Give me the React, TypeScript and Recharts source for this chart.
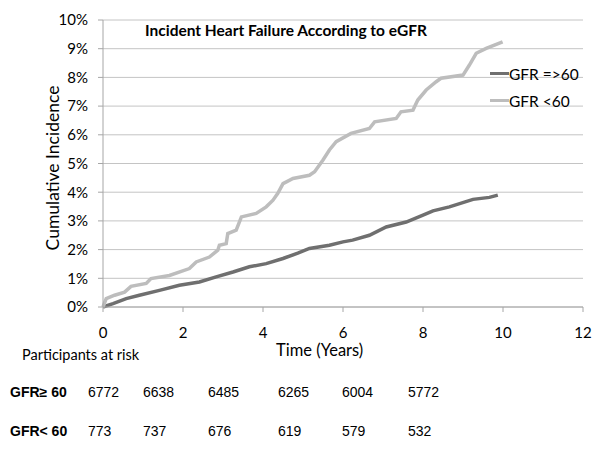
import { LineChart, Line, XAxis, YAxis, CartesianGrid } from 'recharts'

// GFR >= 60 (dark curve)
const highTimes = [0, 0.25, 0.58, 0.91, 1.41, 1.91, 2.41, 2.83, 3.25, 3.66, 4.08, 4.5, 4.87, 5.16, 5.66, 6.0, 6.24, 6.66, 7.08, 7.58, 8.0, 8.25, 8.66, 9.25, 9.66, 9.87]
const highValues = [0, 0.12, 0.29, 0.41, 0.58, 0.76, 0.87, 1.05, 1.22, 1.4, 1.51, 1.69, 1.88, 2.04, 2.15, 2.27, 2.33, 2.5, 2.79, 2.96, 3.2, 3.35, 3.49, 3.75, 3.82, 3.9]

// GFR < 60 (light curve)
const lowTimes = [0, 0.08, 0.29, 0.54, 0.7, 1.08, 1.2, 1.66, 2.16, 2.33, 2.66, 2.87, 2.91, 3.08, 3.12, 3.33, 3.46, 3.83, 4.08, 4.25, 4.37, 4.5, 4.75, 5.16, 5.29, 5.5, 5.66, 5.83, 6.2, 6.66, 6.79, 7.33, 7.45, 7.75, 7.87, 8.08, 8.33, 8.45, 9.0, 9.16, 9.33, 9.58, 9.99]
const lowValues = [0, 0.29, 0.41, 0.52, 0.72, 0.82, 0.99, 1.1, 1.34, 1.57, 1.74, 1.98, 2.15, 2.21, 2.56, 2.68, 3.14, 3.26, 3.49, 3.72, 3.96, 4.3, 4.48, 4.59, 4.71, 5.12, 5.47, 5.76, 6.05, 6.22, 6.45, 6.57, 6.8, 6.86, 7.21, 7.56, 7.85, 7.97, 8.08, 8.43, 8.84, 9.01, 9.24]

const xTicks = [0, 2, 4, 6, 8, 10, 12]
const yTicks = [0, 1, 2, 3, 4, 5, 6, 7, 8, 9, 10]

// participants at risk table
const riskHigh = ['6772', '6638', '6485', '6265', '6004', '5772']
const riskLow = ['773', '737', '676', '619', '579', '532']
const riskCols = [88, 143, 208, 278, 342, 408]

const DARK = '#6f6f6f'
const LIGHT = '#bdbdbd'

const series = [
  { name: 'GFR =>60', color: DARK, data: highTimes.map((t, i) => ({ t, v: highValues[i] })) },
  { name: 'GFR <60', color: LIGHT, data: lowTimes.map((t, i) => ({ t, v: lowValues[i] })) },
]

const FONT = 'Lato, "Open Sans", sans-serif'
const TABLE_FONT = '"Liberation Sans", Arial, sans-serif'

function YLabel() {
  return (
    <text
      x={52}
      y={168}
      transform="rotate(-90 52 168)"
      textAnchor="middle"
      dominantBaseline="central"
      fontSize={17.5}
      fontFamily={FONT}
      fill="#000"
    >
      Cumulative Incidence
    </text>
  )
}

export default function App() {
  return (
    <div style={{ position: 'absolute', left: 0, top: 0, width: 601, height: 452, background: '#fff' }}>
      <LineChart width={601} height={452} margin={{ top: 20, right: 18, bottom: 115, left: 43 }}>
        <CartesianGrid vertical={false} stroke="#c4c4c4" />
        <XAxis
          type="number"
          dataKey="t"
          domain={[0, 12]}
          ticks={xTicks}
          stroke="#a6a6a6"
          tickSize={5}
          tickMargin={15}
          tick={{ fill: '#000', fontSize: 15, fontFamily: FONT }}
        />
        <YAxis
          type="number"
          width={60}
          domain={[0, 10]}
          ticks={yTicks}
          tickFormatter={(v) => `${v}%`}
          stroke="#a6a6a6"
          tickSize={5}
          tickMargin={10}
          tick={{ fill: '#000', fontSize: 15, fontFamily: FONT }}
          label={<YLabel />}
        />
        {series.map((s) => (
          <Line
            key={s.name}
            data={s.data}
            dataKey="v"
            name={s.name}
            stroke={s.color}
            strokeWidth={3.5}
            dot={false}
            type="linear"
            isAnimationActive={false}
          />
        ))}
      </LineChart>

      <div style={{ position: 'absolute', left: 490, top: 60, fontFamily: FONT, fontSize: 15.5, color: '#000' }}>
        {series.map((s) => (
          <div key={s.name} style={{ display: 'flex', alignItems: 'center', height: 27 }}>
            <span style={{ display: 'inline-block', width: 19, height: 3.5, background: s.color }} />
            <span>{s.name}</span>
          </div>
        ))}
      </div>

      <div style={{ position: 'absolute', left: 145, top: 21, fontFamily: FONT, fontWeight: 700, fontSize: 15.5, whiteSpace: 'nowrap' }}>
        Incident Heart Failure According to eGFR
      </div>
      <div style={{ position: 'absolute', left: 276, top: 341, fontFamily: FONT, fontSize: 16.5, lineHeight: '18px', whiteSpace: 'nowrap' }}>
        Time (Years)
      </div>
      <div style={{ position: 'absolute', left: 22, top: 346, fontFamily: FONT, fontSize: 14.5, whiteSpace: 'nowrap' }}>
        Participants at risk
      </div>

      <div style={{ position: 'absolute', left: 10, top: 384, fontFamily: TABLE_FONT, fontWeight: 700, fontSize: 14, whiteSpace: 'nowrap' }}>
        GFR≥ 60
      </div>
      {riskHigh.map((n, i) => (
        <div key={'h' + i} style={{ position: 'absolute', left: riskCols[i], top: 384, fontFamily: TABLE_FONT, fontSize: 14 }}>
          {n}
        </div>
      ))}
      <div style={{ position: 'absolute', left: 10, top: 423, fontFamily: TABLE_FONT, fontWeight: 700, fontSize: 14, whiteSpace: 'nowrap' }}>
        GFR&lt; 60
      </div>
      {riskLow.map((n, i) => (
        <div key={'l' + i} style={{ position: 'absolute', left: riskCols[i], top: 423, fontFamily: TABLE_FONT, fontSize: 14 }}>
          {n}
        </div>
      ))}
    </div>
  )
}
